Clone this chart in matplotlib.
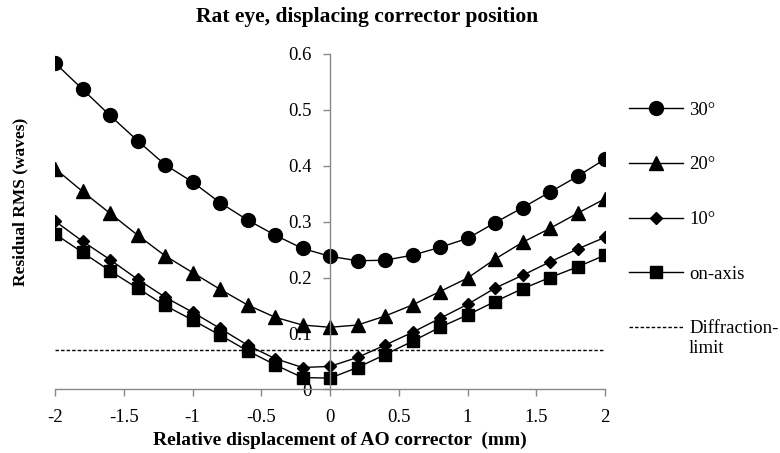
import numpy as np
import matplotlib
matplotlib.use("Agg")
import matplotlib.pyplot as plt

plt.rcParams['font.family'] = ['Liberation Serif', 'DejaVu Serif']

# displacement of the AO corrector (mm)
x = [-2.0, -1.8, -1.6, -1.4, -1.2, -1.0, -0.8, -0.6, -0.4, -0.2, 0.0,
     0.2, 0.4, 0.6, 0.8, 1.0, 1.2, 1.4, 1.6, 1.8, 2.0]

rms_30 = [0.584, 0.537, 0.490, 0.445, 0.402, 0.371, 0.334, 0.303, 0.276, 0.252, 0.238,
          0.230, 0.231, 0.240, 0.254, 0.270, 0.298, 0.325, 0.353, 0.381, 0.412]
rms_20 = [0.395, 0.354, 0.315, 0.276, 0.239, 0.209, 0.179, 0.151, 0.129, 0.115, 0.111,
          0.115, 0.131, 0.151, 0.175, 0.199, 0.233, 0.263, 0.288, 0.315, 0.341]
rms_10 = [0.301, 0.265, 0.232, 0.197, 0.165, 0.138, 0.109, 0.079, 0.055, 0.039, 0.041,
          0.057, 0.079, 0.102, 0.127, 0.152, 0.181, 0.204, 0.228, 0.251, 0.272]
rms_on = [0.278, 0.245, 0.212, 0.181, 0.150, 0.124, 0.097, 0.069, 0.044, 0.021, 0.020,
          0.039, 0.062, 0.086, 0.111, 0.133, 0.157, 0.180, 0.200, 0.219, 0.240]
diff_limit = 0.07

labels = ["30\u00b0", "20\u00b0", "10\u00b0", "on-axis", "Diffraction-"]

fig = plt.figure(figsize=(7.8, 4.53), dpi=100)
ax = fig.add_axes([55 / 780, 1 - 389.3 / 453, 550 / 780, 335.3 / 453])

ax.plot(x, rms_30, color='black', lw=1, marker='o', ms=10, label=labels[0])
ax.plot(x, rms_20, color='black', lw=1, marker='^', ms=10, label=labels[1])
ax.plot(x, rms_10, color='black', lw=1, marker='D', ms=6.5, label=labels[2])
ax.plot(x, rms_on, color='black', lw=1, marker='s', ms=9, label=labels[3])
ax.plot([x[0], x[-1]], [diff_limit, diff_limit], color='black', lw=1,
        dashes=(2.5, 1.5), label=labels[4])

ax.set_xlim(-2, 2)
ax.set_ylim(0, 0.6)
ax.set_xticks(np.arange(-2, 2.01, 0.5))
ax.set_xticklabels(['-2', '-1.5', '-1', '-0.5', '0', '0.5', '1', '1.5', '2'])
ax.set_yticks(np.arange(0, 0.61, 0.1))
ax.set_yticklabels(['0', '0.1', '0.2', '0.3', '0.4', '0.5', '0.6'])

# y axis sits at x = 0
ax.spines['left'].set_position(('data', 0))
ax.spines['right'].set_visible(False)
ax.spines['top'].set_visible(False)
for s in ['left', 'bottom']:
    ax.spines[s].set_color('#888888')
    ax.spines[s].set_linewidth(1)
ax.tick_params(axis='both', direction='out', length=5, width=1, color='#888888',
               labelsize=13.5)
ax.tick_params(axis='y', pad=8)
ax.tick_params(axis='x', pad=9)

fig.text(367 / 780, 1 - 17 / 453, "Rat eye, displacing corrector position",
         fontsize=15.5, fontweight='bold', ha='center', va='center')
ax.set_xlabel("Relative displacement of AO corrector  (mm)", fontsize=14,
              fontweight='bold')
ax.xaxis.set_label_coords(0.518, -0.125)
fig.text(20 / 780, 1 - 202 / 453, "Residual RMS (waves)", rotation=90,
         fontsize=12.5, fontweight='bold', ha='center', va='center')

leg = ax.legend(loc='upper left', bbox_to_anchor=(1.03, 0.88), frameon=False,
                fontsize=13.5, handlelength=2.9, handletextpad=0.3,
                labelspacing=2.0, borderaxespad=0)
# second line of the diffraction-limit label, hung under the legend text
ax.annotate("limit", xy=(0, 0), xycoords=leg.get_texts()[4], xytext=(0, -2),
            textcoords='offset points', fontsize=13.5, ha='left', va='top',
            zorder=10, annotation_clip=False)

fig.savefig("out.png", dpi=100)
